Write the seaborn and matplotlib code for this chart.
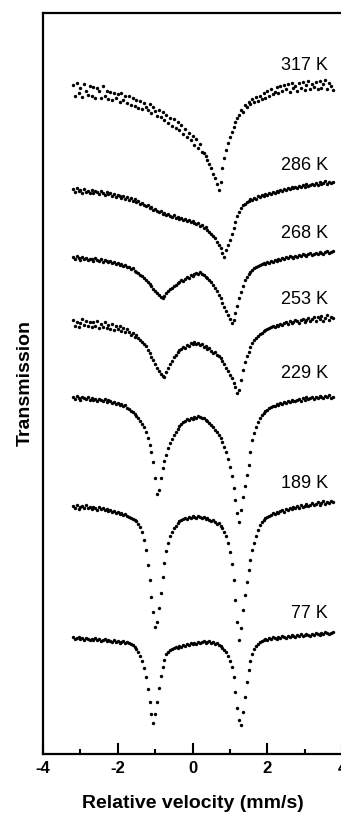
import numpy as np
import pandas as pd
import seaborn as sns
import matplotlib.pyplot as plt

sns.set_style("ticks")
plt.rcParams['font.family'] = ['Liberation Sans', 'DejaVu Sans']
plt.rcParams['axes.unicode_minus'] = False
plt.rcParams['text.color'] = 'black'
plt.rcParams['axes.labelcolor'] = 'black'
plt.rcParams['axes.edgecolor'] = 'black'
plt.rcParams['xtick.color'] = 'black'

# velocity channels (mm/s)
velocity = [
    -3.20, -3.15, -3.10, -3.05, -3.00, -2.95, -2.90, -2.85, -2.80, -2.75,
    -2.70, -2.65, -2.60, -2.55, -2.50, -2.45, -2.40, -2.35, -2.30, -2.25,
    -2.20, -2.15, -2.10, -2.05, -2.00, -1.95, -1.90, -1.85, -1.80, -1.75,
    -1.70, -1.65, -1.60, -1.55, -1.50, -1.45, -1.40, -1.35, -1.30, -1.25,
    -1.20, -1.15, -1.10, -1.05, -1.00, -0.95, -0.90, -0.85, -0.80, -0.75,
    -0.70, -0.65, -0.60, -0.55, -0.50, -0.45, -0.40, -0.35, -0.30, -0.25,
    -0.20, -0.15, -0.10, -0.05, 0.00, 0.05, 0.10, 0.15, 0.20, 0.25,
    0.30, 0.35, 0.40, 0.45, 0.50, 0.55, 0.60, 0.65, 0.70, 0.75,
    0.80, 0.85, 0.90, 0.95, 1.00, 1.05, 1.10, 1.15, 1.20, 1.25,
    1.30, 1.35, 1.40, 1.45, 1.50, 1.55, 1.60, 1.65, 1.70, 1.75,
    1.80, 1.85, 1.90, 1.95, 2.00, 2.05, 2.10, 2.15, 2.20, 2.25,
    2.30, 2.35, 2.40, 2.45, 2.50, 2.55, 2.60, 2.65, 2.70, 2.75,
    2.80, 2.85, 2.90, 2.95, 3.00, 3.05, 3.10, 3.15, 3.20, 3.25,
    3.30, 3.35, 3.40, 3.45, 3.50, 3.55, 3.60, 3.65, 3.70, 3.75,
]

temperatures = ['317 K', '286 K', '268 K', '253 K', '229 K', '189 K', '77 K']
# vertical offset of each spectrum (arbitrary transmission units)
offsets = [664, 564, 496, 431, 356, 247, 116]

# relative transmission of each spectrum (arbitrary units)
t317 = [
    5, -6, 7, -3, 2, -7, 6, -1, -5, 4,
    -6, 3, -8, 2, -1, -8, 4, -6, -1, -9,
    -2, -10, -3, -8, -4, -12, -3, -10, -6, -13,
    -6, -15, -8, -16, -10, -18, -11, -19, -13, -17,
    -20, -14, -23, -17, -21, -26, -20, -27, -22, -30,
    -25, -33, -28, -36, -29, -38, -32, -40, -35, -44,
    -39, -47, -43, -50, -46, -55, -49, -58, -54, -62,
    -63, -66, -70, -74, -78, -84, -88, -94, -100, -92,
    -78, -68, -60, -53, -47, -42, -37, -32, -28, -25,
    -20, -22, -15, -17, -12, -14, -9, -12, -7, -11,
    -6, -9, -3, -8, -1, -6, 1, -4, -2, 3,
    -3, 4, -1, 5, 1, 6, -2, 7, 2, 4,
    -1, 7, 2, 8, 0, 5, 9, 1, 6, 3,
    8, 1, 9, 2, 6, 10, 1, 7, 4, 0,
]
t286 = [
    1, -2, 2, -1, 0, -3, 1, -2, -1, -3,
    0, -3, -1, -2, -4, -1, -3, -5, -2, -4,
    -3, -6, -4, -7, -5, -6, -8, -6, -9, -7,
    -10, -8, -11, -9, -12, -11, -14, -13, -15, -16,
    -15, -18, -17, -20, -19, -21, -22, -21, -24, -23,
    -25, -24, -26, -27, -25, -28, -27, -29, -28, -30,
    -29, -31, -30, -32, -31, -33, -34, -33, -36, -35,
    -38, -37, -40, -42, -44, -46, -48, -52, -55, -58,
    -63, -67, -60, -55, -50, -44, -38, -32, -26, -22,
    -18, -15, -14, -12, -11, -9, -10, -8, -9, -6,
    -7, -5, -6, -4, -5, -3, -4, -2, -3, -1,
    -2, 0, -1, 1, 0, 2, 1, 3, 2, 3,
    2, 4, 3, 5, 3, 6, 4, 5, 6, 5,
    7, 5, 8, 6, 7, 9, 6, 8, 7, 8,
]
t268 = [
    1, -1, 2, 0, -2, 1, -1, 0, -2, -1,
    -1, -3, 0, -2, -3, -1, -4, -2, -3, -4,
    -3, -5, -4, -6, -5, -7, -6, -8, -7, -9,
    -9, -11, -10, -13, -14, -15, -17, -18, -20, -22,
    -24, -26, -28, -31, -33, -35, -37, -39, -40, -38,
    -35, -33, -31, -30, -28, -27, -25, -24, -22, -23,
    -21, -19, -20, -17, -18, -16, -15, -16, -14, -16,
    -17, -19, -20, -22, -24, -27, -30, -33, -37, -40,
    -45, -49, -53, -57, -61, -65, -62, -55, -48, -40,
    -34, -28, -22, -19, -16, -14, -12, -10, -9, -8,
    -7, -6, -5, -6, -4, -5, -3, -4, -2, -3,
    -1, -2, 0, -1, 1, 0, 2, 1, 0, 2,
    1, 3, 2, 4, 3, 2, 4, 5, 3, 4,
    5, 4, 6, 5, 4, 6, 7, 5, 6, 7,
]
t253 = [
    3, -3, 1, -4, 0, 4, -2, 2, -3, 1,
    -4, 1, -3, 2, -5, -1, -4, 1, -5, -2,
    -6, -1, -7, -3, -6, -3, -8, -5, -9, -6,
    -9, -12, -10, -14, -12, -15, -17, -19, -21, -23,
    -27, -30, -34, -37, -41, -45, -48, -51, -53, -54,
    -49, -45, -41, -38, -34, -32, -29, -27, -26, -24,
    -25, -22, -23, -20, -21, -19, -21, -20, -22, -21,
    -24, -23, -26, -25, -28, -30, -29, -32, -33, -35,
    -38, -41, -45, -48, -52, -55, -60, -64, -70, -67,
    -57, -47, -39, -33, -29, -24, -20, -17, -15, -13,
    -11, -10, -8, -7, -6, -5, -4, -3, -4, -2,
    -3, -1, -2, 0, 1, -1, 2, 0, 1, 3,
    2, 0, 3, 4, 1, 3, 5, 2, 4, 6,
    2, 6, 4, 7, 2, 5, 8, 3, 6, 5,
]
t229 = [
    1, -1, 2, 0, -2, 1, 0, -1, 1, -2,
    0, -2, -1, -3, -1, -2, -3, -1, -4, -2,
    -3, -5, -4, -6, -5, -7, -6, -8, -7, -10,
    -11, -13, -14, -16, -18, -20, -23, -26, -29, -34,
    -40, -47, -54, -64, -80, -96, -92, -80, -70, -63,
    -57, -50, -45, -41, -37, -34, -31, -28, -26, -24,
    -23, -21, -22, -20, -21, -19, -20, -18, -19, -20,
    -20, -22, -23, -25, -27, -29, -32, -34, -37, -40,
    -44, -49, -54, -61, -69, -78, -90, -102, -115, -124,
    -112, -99, -88, -77, -67, -54, -42, -35, -29, -24,
    -20, -17, -15, -13, -12, -10, -9, -8, -8, -6,
    -7, -5, -6, -4, -5, -3, -4, -2, -3, -3,
    -2, -1, -3, 0, -2, 1, -1, 0, 1, -1,
    1, 0, 2, 1, 0, 2, 1, 3, 0, 1,
]
t189 = [
    1, -1, 2, -2, 0, 1, -1, 2, -1, 0,
    -2, 0, -1, -3, 0, -2, -1, -3, -2, -4,
    -3, -5, -4, -6, -5, -7, -6, -8, -7, -9,
    -10, -11, -12, -13, -14, -17, -20, -25, -33, -43,
    -58, -73, -90, -105, -120, -115, -101, -86, -70, -56,
    -44, -36, -29, -25, -21, -19, -16, -14, -13, -12,
    -11, -12, -10, -11, -9, -10, -11, -9, -10, -11,
    -10, -12, -11, -13, -14, -13, -15, -17, -16, -19,
    -21, -25, -29, -36, -45, -57, -73, -93, -115, -133,
    -121, -103, -88, -75, -63, -53, -43, -36, -29, -23,
    -18, -15, -13, -11, -10, -9, -8, -6, -7, -5,
    -6, -4, -3, -5, -2, -3, -1, -2, 0, -1,
    1, -1, 2, 0, 1, 3, 1, 2, 4, 2,
    3, 5, 2, 4, 6, 3, 5, 4, 6, 5,
]
t77 = [
    1, -1, 0, 1, -1, 0, -2, 0, -1, -2,
    -1, -2, 0, -2, -1, -3, -2, -1, -3, -2,
    -3, -4, -2, -4, -3, -5, -4, -3, -5, -4,
    -5, -6, -7, -9, -11, -14, -18, -23, -30, -39,
    -51, -64, -76, -85, -76, -64, -50, -38, -29, -22,
    -16, -14, -12, -11, -10, -9, -10, -8, -9, -7,
    -8, -6, -7, -5, -6, -5, -6, -4, -5, -4,
    -3, -5, -4, -3, -5, -4, -6, -5, -7, -8,
    -10, -12, -14, -18, -23, -29, -39, -54, -70, -82,
    -87, -74, -59, -44, -32, -23, -16, -11, -8, -6,
    -4, -3, -2, -1, -2, 0, -1, 1, 0, -1,
    1, 0, 2, 1, 0, 2, 1, 3, 2, 1,
    3, 2, 4, 2, 3, 4, 3, 2, 4, 3,
    5, 4, 3, 5, 4, 6, 5, 4, 5, 6,
]

spectra = [t317, t286, t268, t253, t229, t189, t77]

frames = []
for label, off, vals in zip(temperatures, offsets, spectra):
    frames.append(pd.DataFrame({
        'velocity': velocity,
        'transmission': np.array(vals) + off,
        'temperature': label,
    }))
df = pd.concat(frames, ignore_index=True)

fig = plt.figure(figsize=(3.41, 8.14), dpi=100)
ax = fig.add_axes([43 / 341, 60 / 814, 299 / 341, 741 / 814])

sns.scatterplot(data=df, x='velocity', y='transmission', color='black',
                s=6, linewidth=0, legend=False, ax=ax)

for label, off in zip(temperatures, offsets):
    ax.text(3.63, off + 24, label, ha='right', va='center', fontsize=13)

ax.set_xlim(-4, 4)
ax.set_ylim(0, 741)
ax.set_xticks([-4, -2, 0, 2, 4])
ax.set_xticks([-3, -1, 1, 3], minor=True)
ax.set_xticklabels(['-4', '-2', '0', '2', '4'], fontweight='bold', fontsize=12)
ax.set_yticks([])
ax.tick_params(axis='x', which='major', direction='in', length=8, width=1.5, pad=5)
ax.tick_params(axis='x', which='minor', direction='in', length=3.5, width=1.5)

for side in ['left', 'bottom', 'top']:
    ax.spines[side].set_linewidth(1.6)
ax.spines['right'].set_visible(False)

ax.set_xlabel('Relative velocity (mm/s)', fontweight='bold', fontsize=14, labelpad=14)
ax.set_ylabel('Transmission', fontweight='bold', fontsize=14, labelpad=7)

fig.savefig('out.png', dpi=100)
